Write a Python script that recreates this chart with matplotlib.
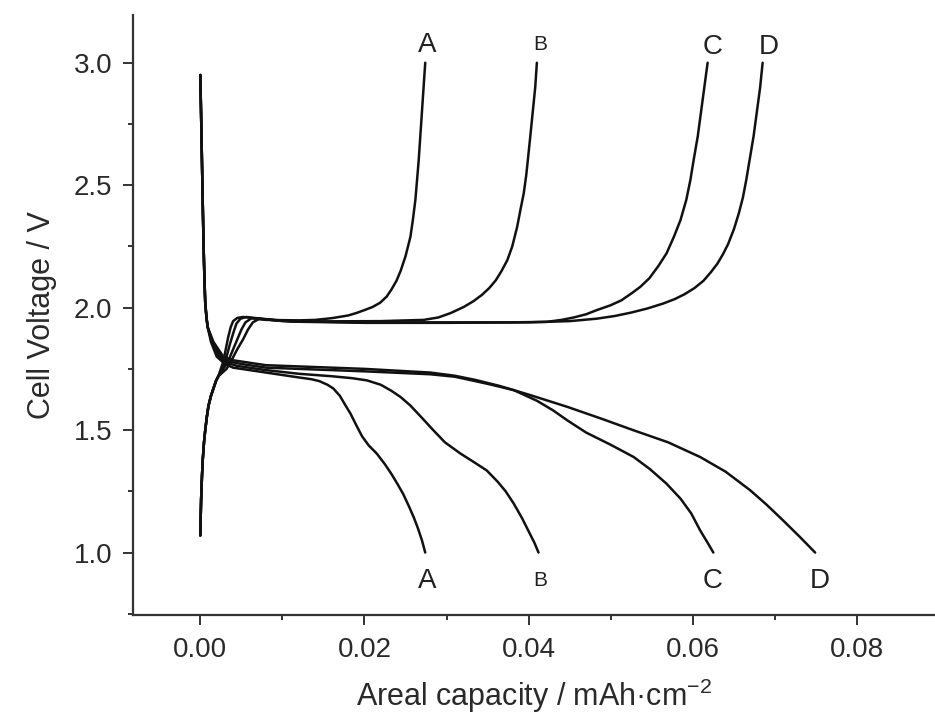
import matplotlib
matplotlib.use("Agg")
import matplotlib.pyplot as plt
from matplotlib.ticker import MultipleLocator, FormatStrFormatter

plt.rcParams['font.family'] = ['Liberation Sans', 'DejaVu Sans']

# Charge curves (capacity in mAh/cm^2, voltage in V)
charge_start_x = [0.0, 0.00005, 0.0001, 0.0002, 0.0003, 0.00045, 0.0006, 0.0008,
                  0.0010, 0.0013, 0.0016, 0.0019, 0.0022]
charge_start_v = [1.07, 1.15, 1.22, 1.31, 1.38, 1.45, 1.50, 1.555,
                  1.60, 1.64, 1.67, 1.70, 1.72]

charge_A_x = [0.0028, 0.0031, 0.0034, 0.0037, 0.0040, 0.0045, 0.0052, 0.0062, 0.0080,
              0.0120, 0.0140, 0.0160, 0.0180, 0.0190, 0.0200, 0.0210, 0.0219, 0.0227,
              0.0233, 0.0239, 0.0244, 0.0250, 0.0256, 0.0259, 0.0262, 0.0264, 0.0266,
              0.0268, 0.0270, 0.0272, 0.0274]
charge_A_v = [1.78, 1.83, 1.88, 1.92, 1.945, 1.958, 1.962, 1.958, 1.95,
              1.948, 1.95, 1.957, 1.968, 1.978, 1.99, 2.003, 2.02, 2.045,
              2.075, 2.11, 2.15, 2.21, 2.29, 2.36, 2.44, 2.52, 2.60,
              2.70, 2.80, 2.90, 3.00]

charge_B_x = [0.0028, 0.0032, 0.0036, 0.0040, 0.0044, 0.0049, 0.0056, 0.0066, 0.0090,
              0.0150, 0.0220, 0.0272, 0.0290, 0.0305, 0.0321, 0.0333, 0.0343, 0.0352,
              0.0360, 0.0367, 0.0374, 0.0380, 0.0386, 0.0390, 0.0394, 0.0397, 0.0399,
              0.0402, 0.0405, 0.0408, 0.0410]
charge_B_v = [1.76, 1.80, 1.85, 1.895, 1.935, 1.955, 1.962, 1.958, 1.948,
              1.944, 1.945, 1.95, 1.96, 1.978, 2.003, 2.027, 2.052, 2.08,
              2.112, 2.15, 2.194, 2.25, 2.33, 2.40, 2.467, 2.54, 2.603,
              2.70, 2.80, 2.90, 3.00]

charge_C_x = [0.0030, 0.0035, 0.0040, 0.0045, 0.0050, 0.0055, 0.0062, 0.0072, 0.0100,
              0.0200, 0.0300, 0.0380, 0.0422, 0.0440, 0.0455, 0.0470, 0.0483, 0.0500,
              0.0513, 0.0526, 0.0536, 0.0547, 0.0558, 0.0568, 0.0577, 0.0585, 0.0592,
              0.0597, 0.0601, 0.0606, 0.0610, 0.0614, 0.0618]
charge_C_v = [1.76, 1.79, 1.83, 1.87, 1.91, 1.94, 1.956, 1.956, 1.945,
              1.94, 1.94, 1.94, 1.942, 1.95, 1.96, 1.973, 1.99, 2.01,
              2.03, 2.06, 2.085, 2.12, 2.17, 2.222, 2.29, 2.358, 2.44,
              2.521, 2.603, 2.70, 2.80, 2.90, 3.00]

charge_D_x = [0.0032, 0.0038, 0.0045, 0.0052, 0.0058, 0.0064, 0.0071, 0.0082, 0.0110,
              0.0200, 0.0300, 0.0400, 0.0450, 0.0483, 0.0505, 0.0525, 0.0545, 0.0564,
              0.0578, 0.0590, 0.0602, 0.0613, 0.0622, 0.0630, 0.0637, 0.0643, 0.0650,
              0.0656, 0.0661, 0.0665, 0.0669, 0.0674, 0.0678, 0.0682, 0.0685]
charge_D_v = [1.75, 1.785, 1.83, 1.87, 1.91, 1.94, 1.953, 1.953, 1.943,
              1.938, 1.938, 1.94, 1.945, 1.955, 1.966, 1.98, 1.997, 2.017,
              2.035, 2.055, 2.08, 2.11, 2.145, 2.18, 2.22, 2.26, 2.32,
              2.385, 2.45, 2.52, 2.60, 2.70, 2.80, 2.90, 3.00]

# Discharge curves
discharge_start_x = [0.0, 0.0001, 0.0002, 0.0003, 0.0004, 0.0005, 0.0006, 0.00075, 0.0009]
discharge_start_v = [2.95, 2.78, 2.60, 2.42, 2.25, 2.12, 2.02, 1.96, 1.92]

discharge_A_x = [0.0013, 0.0020, 0.0030, 0.0040, 0.0080, 0.0120, 0.0135, 0.0145, 0.0155,
                 0.0162, 0.0170, 0.0177, 0.0183, 0.0190, 0.0197, 0.0205, 0.0215, 0.0225,
                 0.0233, 0.0240, 0.0247, 0.0254, 0.0260, 0.0265, 0.0270, 0.0274]
discharge_A_v = [1.86, 1.80, 1.77, 1.755, 1.735, 1.715, 1.708, 1.70, 1.685,
                 1.67, 1.64, 1.60, 1.567, 1.52, 1.475, 1.438, 1.404, 1.36,
                 1.32, 1.281, 1.24, 1.19, 1.144, 1.10, 1.05, 1.00]

discharge_B_x = [0.0014, 0.0022, 0.0032, 0.0045, 0.0080, 0.0120, 0.0160, 0.0185, 0.0203,
                 0.0220, 0.0233, 0.0244, 0.0256, 0.0270, 0.0284, 0.0298, 0.0317, 0.0333,
                 0.0349, 0.0362, 0.0372, 0.0382, 0.0392, 0.0401, 0.0407, 0.0412]
discharge_B_v = [1.86, 1.80, 1.775, 1.762, 1.745, 1.73, 1.72, 1.712, 1.703,
                 1.685, 1.66, 1.635, 1.60, 1.55, 1.499, 1.45, 1.404, 1.37,
                 1.335, 1.29, 1.25, 1.199, 1.14, 1.08, 1.04, 1.00]

discharge_C_x = [0.0015, 0.0025, 0.0035, 0.0050, 0.0080, 0.0120, 0.0200, 0.0280, 0.0310,
                 0.0335, 0.0355, 0.0382, 0.0410, 0.0430, 0.0447, 0.0470, 0.0500, 0.0528,
                 0.0548, 0.0568, 0.0585, 0.0598, 0.0609, 0.0618, 0.0625]
discharge_C_v = [1.86, 1.80, 1.78, 1.77, 1.755, 1.75, 1.74, 1.728, 1.718,
                 1.70, 1.685, 1.663, 1.62, 1.58, 1.54, 1.49, 1.44, 1.39,
                 1.34, 1.281, 1.22, 1.16, 1.09, 1.04, 1.00]

discharge_D_x = [0.0016, 0.0028, 0.0040, 0.0060, 0.0080, 0.0120, 0.0200, 0.0280, 0.0310,
                 0.0335, 0.0365, 0.0400, 0.0447, 0.0490, 0.0528, 0.0570, 0.0609, 0.0640,
                 0.0670, 0.0690, 0.0710, 0.0730, 0.0749]
discharge_D_v = [1.86, 1.80, 1.785, 1.775, 1.765, 1.76, 1.75, 1.735, 1.722,
                 1.705, 1.68, 1.645, 1.595, 1.545, 1.499, 1.45, 1.39, 1.33,
                 1.254, 1.195, 1.131, 1.065, 1.00]

series_names = ['A', 'B', 'C', 'D']
charge_x = [charge_A_x, charge_B_x, charge_C_x, charge_D_x]
charge_v = [charge_A_v, charge_B_v, charge_C_v, charge_D_v]
discharge_x = [discharge_A_x, discharge_B_x, discharge_C_x, discharge_D_x]
discharge_v = [discharge_A_v, discharge_B_v, discharge_C_v, discharge_D_v]

# Curve labels at the top and bottom end of each curve
top_label_x = [0.02765, 0.0414, 0.0624, 0.0692]
top_label_v = [3.074, 3.074, 3.065, 3.065]
bottom_label_x = [0.02765, 0.0414, 0.0624, 0.0755]
bottom_label_v = [0.885, 0.885, 0.885, 0.885]
label_sizes = [20, 15, 20, 20]

fig = plt.figure(figsize=(9.35, 7.14), dpi=100)
left = 133 / 935
bottom = 1 - 615 / 714
top = 1 - 15 / 714
ax = fig.add_axes([left, bottom, 1 - left, top - bottom])

line_kw = dict(color='#111111', lw=1.8, solid_capstyle='round', solid_joinstyle='round')
for cx, cv, dx, dv in zip(charge_x, charge_v, discharge_x, discharge_v):
    ax.plot(charge_start_x + cx, charge_start_v + cv, **line_kw)
    ax.plot(discharge_start_x + dx, discharge_start_v + dv, **line_kw)

for name, tx, tv, bx, bv, fs in zip(series_names, top_label_x, top_label_v,
                                     bottom_label_x, bottom_label_v, label_sizes):
    ax.text(tx, tv, name, ha='center', va='center', fontsize=fs, color='#222222')
    ax.text(bx, bv, name, ha='center', va='center', fontsize=fs, color='#222222')

ax.set_xlim(-0.0082, 0.0895)
ax.set_ylim(0.745, 3.195)

for side in ('top', 'right'):
    ax.spines[side].set_visible(False)
for side in ('left', 'bottom'):
    ax.spines[side].set_color('#333333')
    ax.spines[side].set_linewidth(1.6)

ax.xaxis.set_major_locator(MultipleLocator(0.02))
ax.xaxis.set_minor_locator(MultipleLocator(0.01))
ax.yaxis.set_major_locator(MultipleLocator(0.5))
ax.yaxis.set_minor_locator(MultipleLocator(0.25))
ax.xaxis.set_major_formatter(FormatStrFormatter('%.2f'))
ax.yaxis.set_major_formatter(FormatStrFormatter('%.1f'))

ax.tick_params(which='major', direction='out', length=7, width=1.4,
               color='#333333', labelsize=20, labelcolor='#2a2a2a')
ax.tick_params(axis='x', which='major', pad=9)
ax.tick_params(axis='y', which='major', pad=8)
ax.tick_params(which='minor', direction='out', length=3.5, width=1.4, color='#333333')

ax.set_xlabel('Areal capacity / mAh·cm$^{\\mathregular{-2}}$', fontsize=22,
              color='#2a2a2a', labelpad=10)
ax.set_ylabel('Cell Voltage / V', fontsize=22, color='#2a2a2a', labelpad=12)

fig.savefig('out.png', dpi=100)
